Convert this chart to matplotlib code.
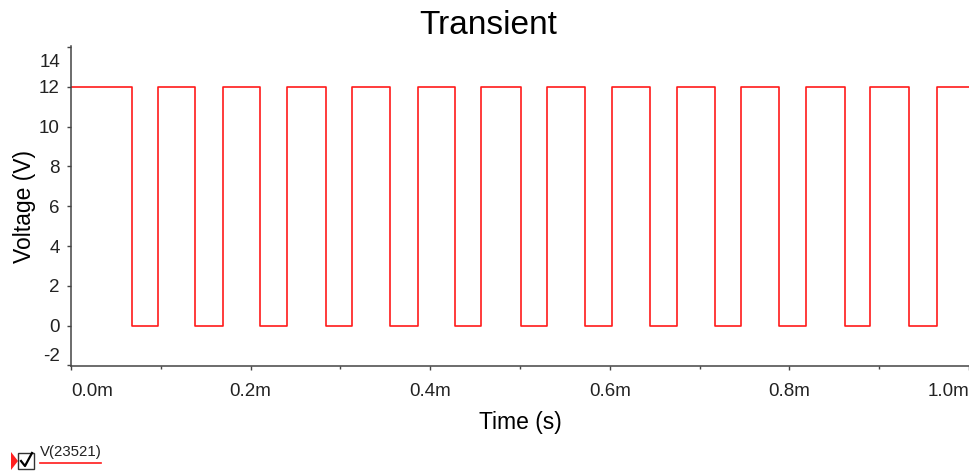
import matplotlib.pyplot as plt
from matplotlib.patches import Polygon, Rectangle
from matplotlib.lines import Line2D
from matplotlib.ticker import FuncFormatter, MultipleLocator
from matplotlib.transforms import ScaledTranslation

plt.rcParams['font.family'] = ['Liberation Sans', 'DejaVu Sans']
plt.rcParams['axes.unicode_minus'] = False

# edge times of the square wave, in ms
fall_ms = [0.068, 0.1386, 0.2107, 0.2843, 0.3548, 0.4281, 0.5006, 0.5722,
           0.6444, 0.7172, 0.7882, 0.8614, 0.9334]
rise_ms = [0.097, 0.1691, 0.2405, 0.3133, 0.3865, 0.4567, 0.5303, 0.602,
           0.6745, 0.7466, 0.8183, 0.890, 0.964]
v_high = 12.0
v_low = 0.0
t_end = 1.0
series_name = "V(23521)"
y_ticks = [-2, 0, 2, 4, 6, 8, 10, 12, 14]
x_ticks = [0.0, 0.2, 0.4, 0.6, 0.8, 1.0]

# build step series
t = [0.0]
v = [v_high]
for f, r in zip(fall_ms, rise_ms):
    t += [f, r]
    v += [v_low, v_high]
t.append(t_end)
v.append(v_high)

fig = plt.figure(figsize=(9.7, 4.72), dpi=100)
ax = fig.add_axes([71 / 970, 1 - 366 / 472, 898 / 970, 320 / 472])

red = '#ff1a1a'
ax.plot(t, v, drawstyle='steps-post', color=red, lw=1.2)

ax.set_xlim(0, 1.0)
ax.set_ylim(-2.03, 14.05)
ax.set_yticks(y_ticks)
ax.set_xticks(x_ticks)
ax.xaxis.set_minor_locator(MultipleLocator(0.1))
ax.xaxis.set_major_formatter(FuncFormatter(lambda x, p: '%.1fm' % x))

for s in ['top', 'right']:
    ax.spines[s].set_visible(False)
for s in ['left', 'bottom']:
    ax.spines[s].set_color('#444444')
    ax.spines[s].set_linewidth(1.1)

ax.tick_params(axis='both', which='major', length=3, width=1.0, color='#444444',
               labelsize=13.5, labelcolor='#222222')
ax.tick_params(axis='y', which='major', pad=5)
ax.tick_params(axis='x', which='major', pad=9)
ax.tick_params(axis='x', which='minor', length=1.8, width=1.0, color='#444444')

# edge labels pulled inward
xt = ax.xaxis.get_major_ticks()
xt[0].label1.set_ha('left')
xt[-1].label1.set_ha('right')
yt = ax.yaxis.get_major_ticks()
yt[0].label1.set_va('bottom')
yt[-1].label1.set_transform(yt[-1].label1.get_transform() +
                            ScaledTranslation(0, -14 / 100, fig.dpi_scale_trans))

fig.suptitle("Transient", fontsize=24, x=0.503, y=1 - 10 / 472, va='top')
ax.set_xlabel("Time (s)", fontsize=16.5, labelpad=8.5)
ax.set_ylabel("Voltage (V)", fontsize=16.5, labelpad=2)

# legend entry at bottom left (pixel coords)
W, H = 970, 472
def px(x, y):
    return (x / W, 1 - y / H)

fig.patches.append(Polygon([px(11, 452), px(18, 461), px(11, 470)], closed=True,
                           transform=fig.transFigure, color='#ff2020', ec='none'))
x0, y0 = px(18, 469)
fig.patches.append(Rectangle((x0, y0), 16 / W, 16 / H, transform=fig.transFigure,
                             fill=False, ec='#333333', lw=1.0))
fig.lines.append(Line2D([px(21, 461)[0], px(25, 466)[0], px(32, 453)[0]],
                        [px(21, 461)[1], px(25, 466)[1], px(32, 453)[1]],
                        transform=fig.transFigure, color='black', lw=1.6))
fig.text(40 / W, 1 - 456 / H, series_name, fontsize=10.8, color='#222222',
         va='baseline', ha='left')
fig.lines.append(Line2D([40 / W, 101 / W], [1 - 462.5 / H, 1 - 462.5 / H],
                        transform=fig.transFigure, color=red, lw=1.2))

fig.savefig("out.png", dpi=100)
